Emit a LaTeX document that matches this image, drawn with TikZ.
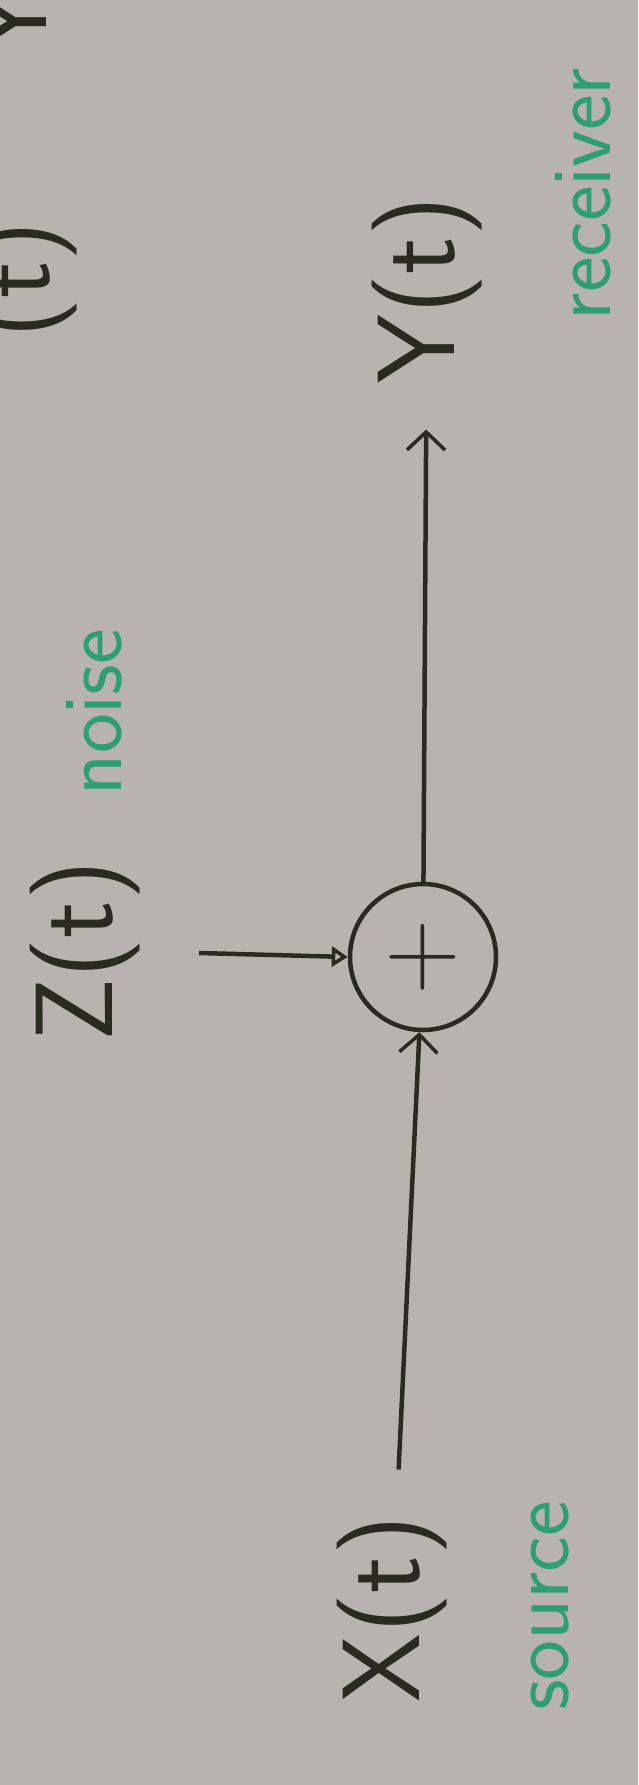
\documentclass[tikz,border=0pt]{standalone}
\usetikzlibrary{arrows.meta,positioning}
\definecolor{Papel}{HTML}{B9B3B0}
\definecolor{Tinta}{HTML}{2A2A20}
\definecolor{Verde}{HTML}{2E9E73}

\begin{document}
\begin{tikzpicture}[x=1pt,y=-1pt,
 >={Straight Barb[length=18pt,width=38pt,line width=3.5pt]},
 tinta/.style={draw=Tinta,line width=4.5pt},
 senal/.style={text=Tinta,rotate=90,inner sep=0pt,font=\fontsize{110}{110}\selectfont\sffamily},
 nota/.style={text=Verde,rotate=90,inner sep=0pt,font=\fontsize{85}{85}\selectfont\sffamily}]
\fill[Papel] (0,0) rectangle (638,1785);
\useasboundingbox (0,0) rectangle (638,1785);
% resto de la linea anterior, cortado en el borde
\node[senal] (prevt) at (22,280) {(t)};
\node[senal] (prevy) at (8,22) {Y};
% canal con ruido aditivo
\node[tinta,circle,minimum size=146pt,inner sep=0pt,text=Tinta,font=\fontsize{105}{105}\selectfont\sffamily] (sum) at (423,957) {+};
\node[senal] (src) at (392,1609) {X(t)};
\node[senal] (rcv) at (427,290) {Y(t)};
\node[senal] (ruido) at (85,951) {Z(t)};
\coordinate (zcola) at (199,953);
\node[nota] (lsrc) at (550,1606) {source};
\node[nota] (lrcv) at (583,194) {receiver};
\node[nota] (lruido) at (94,712) {noise};
\draw[tinta,->,shorten <=46pt] (src)--(sum);
\draw[tinta,->,shorten >=46pt] (sum)--(rcv);
\draw[tinta,-{Triangle[open,length=16pt,width=20pt,line width=3.5pt]}] (zcola)--(sum.west);
\end{tikzpicture}
\end{document}
